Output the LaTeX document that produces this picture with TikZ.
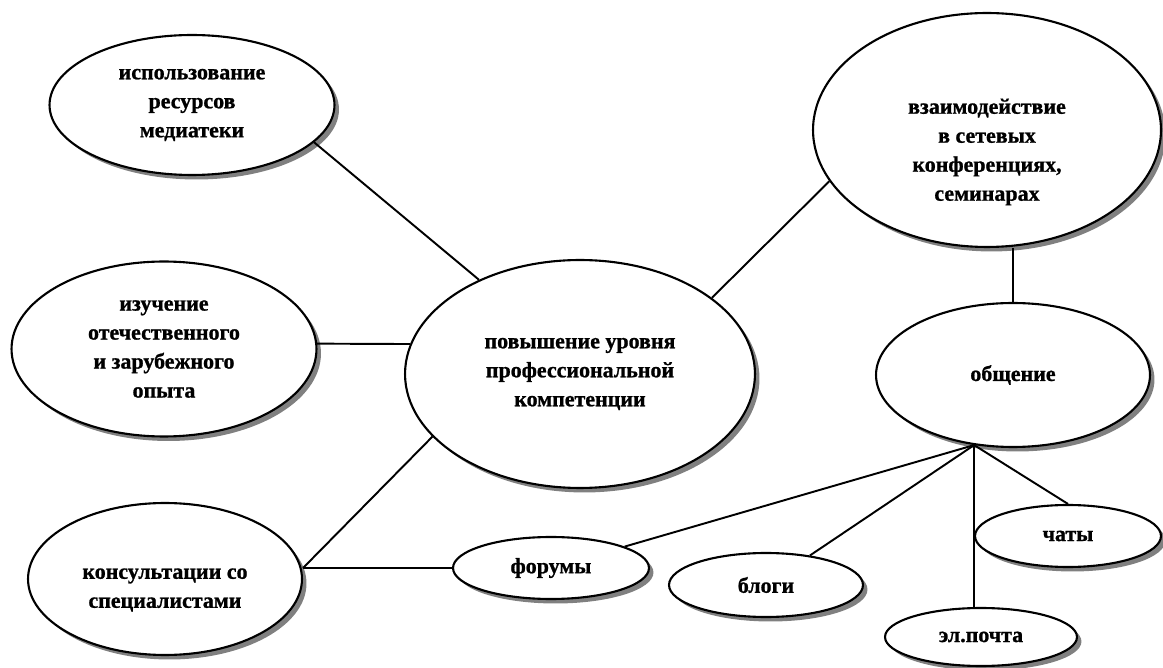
\documentclass[tikz,border=0pt]{standalone}
\usepackage{fontspec}
\setmainfont{Liberation Serif}[BoldFeatures={FakeBold=1}]
\usetikzlibrary{shapes.geometric,shadows}
\tikzset{
  ovl/.style={ellipse, draw=black, line width=1.2pt, fill=white, inner sep=0pt,
    align=center, font=\fontsize{12.5}{16.5}\selectfont\bfseries,
    drop shadow={shadow xshift=0.09cm, shadow yshift=-0.09cm, fill=black!50, opacity=1}},
  lbl/.style={align=center, inner sep=0pt, font=\fontsize{12.5}{16.5}\selectfont\bfseries},
  lnk/.style={line width=1.1pt, draw=black},
}
\begin{document}
\begin{tikzpicture}[x=0.02cm, y=-0.02cm]
  \useasboundingbox (0,0) rectangle (1163,668);
  % ellipses
  \node[ovl, minimum width=5.7cm, minimum height=2.8cm] (med) at (192,105)
    {использование\\ресурсов\\медиатеки};
  \node[ovl, minimum width=6.1cm, minimum height=3.5cm] (opt) at (164,349)
    {изучение\\отечественного\\и зарубежного\\опыта};
  \node[ovl, minimum width=7cm, minimum height=4.56cm] (c) at (580,374)
    {повышение уровня\\профессиональной\\компетенции};
  \node[ovl, minimum width=5.48cm, minimum height=3.04cm,
    label={[lbl, yshift=-0.22cm]center:{консультации со\\специалистами}}] (kons) at (165,579) {};
  \node[ovl, minimum width=6.96cm, minimum height=4.68cm,
    label={[lbl, yshift=-0.44cm]center:{взаимодействие\\в сетевых\\конференциях,\\семинарах}}] (vz) at (987,130) {};
  \node[ovl, minimum width=5.48cm, minimum height=2.88cm] (ob) at (1013,375) {общение};
  \node[ovl, minimum width=3.92cm, minimum height=1.24cm] (frm) at (551,568) {форумы};
  \node[ovl, minimum width=3.88cm, minimum height=1.28cm] (blog) at (766,585) {блоги};
  \node[ovl, minimum width=3.72cm, minimum height=1.24cm] (chat) at (1068,536) {чаты};
  \node[ovl, minimum width=3.84cm, minimum height=1.16cm] (mail) at (981,637) {эл.почта};
  % links
  \coordinate (kj) at (frm.west -| kons.east);
  \coordinate (oj) at (ob.-119);
  \draw[lnk] (med.-17) -- (c.137);
  \draw[lnk] (opt.2) -- (c.170);
  \draw[lnk] (kj) -- (c.203);
  \draw[lnk] (kj) -- (frm.west);
  \draw[lnk] (c.30) -- (vz.198);
  \draw[lnk] (ob.north) -- (ob.north |- vz.south);
  \draw[lnk] (oj) -- (frm);
  \draw[lnk] (oj) -- (blog);
  \draw[lnk] (oj) -- (oj |- mail.north);
  \draw[lnk] (oj) -- (chat.north);
\end{tikzpicture}
\end{document}
